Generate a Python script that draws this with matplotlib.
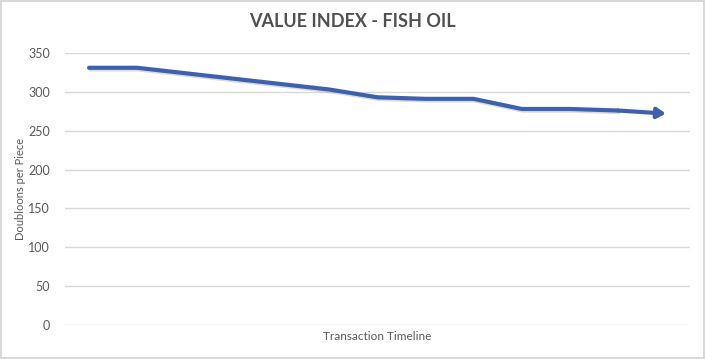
import matplotlib
matplotlib.use('Agg')
from matplotlib import pyplot as plt
import matplotlib.patheffects as pe

plt.rcParams['font.family'] = ['Lato', 'DejaVu Sans']

# values, one per transaction
steps = list(range(13))
value = [331, 331, 324, 317, 310, 303, 293, 291, 291, 278, 278, 276, 272]
y_ticks = [0, 50, 100, 150, 200, 250, 300, 350]

grey = '#595959'
blue = '#3E61AD'

fig = plt.figure(figsize=(7.05, 3.59), dpi=100)
fig.patch.set_edgecolor('#D9D9D9')
fig.patch.set_linewidth(1.5)
ax = fig.add_axes([65 / 705, 34 / 359, 625 / 705, 272 / 359])

shadow = [pe.SimpleLineShadow(offset=(0.8, -1.2), shadow_color='#999999', alpha=0.35), pe.Normal()]
ax.plot(steps[:-1], value[:-1], color=blue, lw=3, solid_capstyle='round',
        solid_joinstyle='round', path_effects=shadow, zorder=3)
ax.annotate('', xy=(steps[-1], value[-1]), xytext=(steps[-2], value[-2]),
            arrowprops=dict(arrowstyle='-|>,head_length=0.5,head_width=0.3', color=blue,
                            lw=3, shrinkA=0, shrinkB=0), zorder=3)

ax.set_xlim(-0.5, 12.5)
ax.set_ylim(0, 350)
ax.set_yticks(y_ticks)
ax.set_xticks([])
ax.grid(axis='y', color='#D9D9D9', lw=1)
ax.set_axisbelow(True)
for s in ax.spines.values():
    s.set_visible(False)
ax.tick_params(axis='y', length=0, labelsize=9, labelcolor=grey, pad=11)

ax.set_ylabel('Doubloons per Piece', fontsize=8, color=grey)
ax.yaxis.set_label_coords(-39 / 625, 0.5)
ax.set_xlabel('Transaction Timeline', fontsize=8.5, color=grey, labelpad=4)
fig.text(0.5, 0.94, 'VALUE INDEX - FISH OIL', ha='center', va='center',
         fontsize=13, fontweight='bold', color='#505050')

fig.savefig('out.png', dpi=100)
